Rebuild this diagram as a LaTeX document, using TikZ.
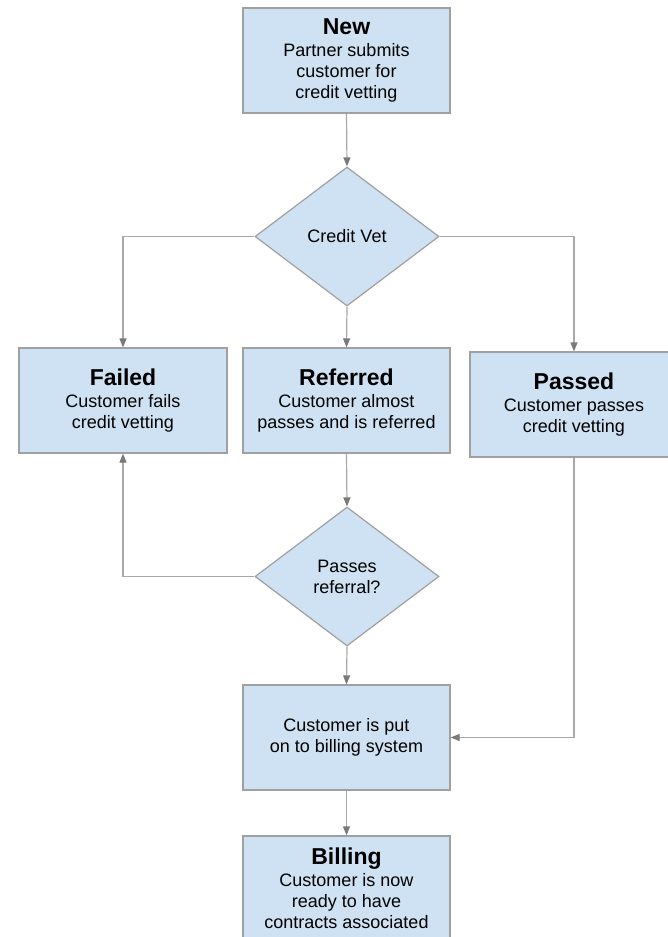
\documentclass[tikz,border=0pt]{standalone}
\usepackage{fontspec}
\setmainfont{Liberation Sans}
\usetikzlibrary{shapes.geometric,arrows.meta}
\definecolor{boxfill}{HTML}{CFE2F3}
\definecolor{boxline}{HTML}{A0A0A0}
\definecolor{conn}{HTML}{A8A8A8}
\definecolor{tipc}{HTML}{7A7A7A}
\newcommand{\ttl}[1]{{\fontsize{23}{25}\selectfont\bfseries #1}}
\tikzset{
  stepbox/.style={draw=boxline, line width=1.2pt, fill=boxfill, minimum width=207pt, minimum height=105pt,
    inner sep=0pt, align=center, font=\fontsize{18}{21}\selectfont},
  decision/.style={diamond, draw=boxline, line width=1.2pt, fill=boxfill, minimum width=184pt, minimum height=139pt,
    inner sep=0pt, align=center, font=\fontsize{18}{21}\selectfont},
  conline/.style={draw=conn, line width=1.2pt, -{Triangle[length=9pt,width=7pt,color=tipc]}},
}
\begin{document}
\begin{tikzpicture}[x=1pt,y=-1pt]
\clip (0,0) rectangle (668,937);
\fill[white] (0,0) rectangle (668,937);
\node[stepbox] (new) at (346.5,60.5) {\ttl{New}\\[1pt]Partner submits\\customer for\\credit vetting};
\node[decision] (cv) at (347,236.5) {Credit Vet};
\node[stepbox, minimum width=208pt] (failed) at (123,400.5) {\ttl{Failed}\\[1pt]Customer fails\\credit vetting};
\node[stepbox] (referred) at (346.5,400.5) {\ttl{Referred}\\[1pt]Customer almost\\passes and is referred};
\node[stepbox, minimum width=208pt] (passed) at (574,404.5) {\ttl{Passed}\\[1pt]Customer passes\\credit vetting};
\node[decision] (pr) at (347,576.5) {Passes\\referral?};
\node[stepbox] (put) at (346.5,737.5) {Customer is put\\on to billing system};
\node[stepbox] (billing) at (346.5,888.5) {\ttl{Billing}\\[1pt]Customer is now\\ready to have\\contracts associated};
\draw[conline] (new.south) -- (cv.north);
\draw[conline] (cv.west) -| (failed.north);
\draw[conline] (cv.south) -- (referred.north);
\draw[conline] (cv.east) -| (passed.north);
\draw[conline] (referred.south) -- (pr.north);
\draw[conline] (pr.west) -| (failed.south);
\draw[conline] (pr.south) -- (put.north);
\draw[conline] (passed.south) |- (put.east);
\draw[conline] (put.south) -- (billing.north);
\end{tikzpicture}
\end{document}
